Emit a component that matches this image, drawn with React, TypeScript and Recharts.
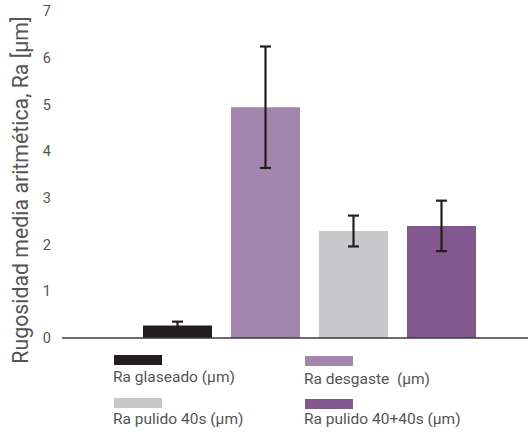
import { BarChart, Bar, XAxis, YAxis, ErrorBar, Label } from 'recharts';

// series (one category, four bars like the original spreadsheet chart)
const seriesNames = ['Ra glaseado (μm)', 'Ra desgaste  (μm)', 'Ra pulido 40s (μm)', 'Ra pulido 40+40s (μm)'];
const seriesKeys = ['glaseado', 'desgaste', 'pulido40', 'pulido4040'];
const seriesColors = ['#231f20', '#a386ad', '#c8c8ca', '#83588f'];
const values = [0.27, 4.94, 2.29, 2.4];
const errors = [0.08, 1.3, 0.33, 0.54];
const yTicks = [0, 1, 2, 3, 4, 5, 6, 7];

const row: Record<string, any> = { name: 'Ra' };
seriesKeys.forEach((k, i) => {
  row[k] = values[i];
  row[k + 'Err'] = errors[i];
});
const data = [row];

const font = 'Roboto, "Noto Sans", sans-serif';
const textColor = '#555555';

// legend slots (2 x 2)
const legendPos = [
  { left: 114, top: 355, textTop: 369 },
  { left: 305, top: 356, textTop: 371 },
  { left: 114, top: 398, textTop: 411 },
  { left: 305, top: 399, textTop: 411 },
];

export default function App() {
  return (
    <div style={{ position: 'absolute', left: 0, top: 0, width: 528, height: 435, background: '#fff', fontFamily: font }}>
      <BarChart
        width={528}
        height={435}
        data={data}
        margin={{ top: 11, right: 0, bottom: 67, left: 0 }}
        barSize={69}
        barGap={19}
      >
        <XAxis
          dataKey="name"
          tick={false}
          tickLine={false}
          height={30}
          padding={{ left: 29, right: 0 }}
          axisLine={{ stroke: '#3a3a3a', strokeWidth: 1.3 }}
        />
        <YAxis
          domain={[0, 7]}
          ticks={yTicks}
          width={62}
          axisLine={false}
          tickLine={false}
          tickMargin={5}
          interval={0}
          tick={{ fill: textColor, fontSize: 14.5, fontFamily: font }}
        >
          <Label
            content={() => (
              <text
                transform="translate(28,190) rotate(-90)"
                textAnchor="middle"
                fill={textColor}
                fontSize={21.3}
                fontFamily={font}
              >
                Rugosidad media aritmética, Ra [μm]
              </text>
            )}
          />
        </YAxis>
        {seriesKeys.map((k, i) => (
          <Bar key={k} dataKey={k} name={seriesNames[i]} fill={seriesColors[i]} isAnimationActive={false}>
            <ErrorBar
              dataKey={k + 'Err'}
              width={5.5}
              stroke="#231f20"
              strokeWidth={2.2}
              isAnimationActive={false}
            />
          </Bar>
        ))}
      </BarChart>
      {seriesNames.map((n, i) => (
        <div key={n}>
          <div
            style={{
              position: 'absolute',
              left: legendPos[i].left,
              top: legendPos[i].top,
              width: 48,
              height: 10,
              background: seriesColors[i],
            }}
          />
          <div
            style={{
              position: 'absolute',
              left: legendPos[i].left - 1,
              top: legendPos[i].textTop,
              fontSize: 15.5,
              lineHeight: '16px',
              color: textColor,
              whiteSpace: 'pre',
            }}
          >
            {n}
          </div>
        </div>
      ))}
    </div>
  );
}
